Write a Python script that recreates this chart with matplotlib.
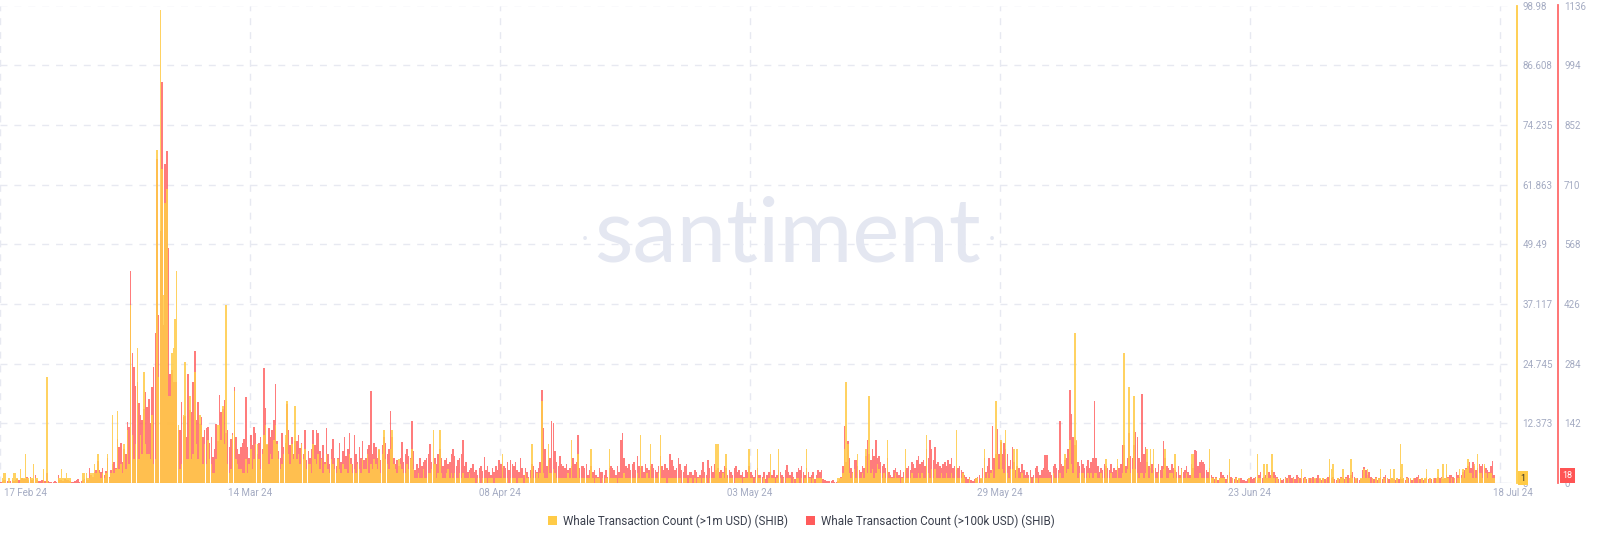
import numpy as np
import pandas as pd
import matplotlib
matplotlib.use("Agg")
import matplotlib.pyplot as plt
import matplotlib.dates as mdates
import matplotlib.transforms as mtransforms
from matplotlib.patches import Patch

# ---------------- data ----------------
start = "2024-02-17 00:00"
interval_hours = 4

# Whale Transaction Count (>1m USD) (SHIB), one value per 4h
whale_1m = [
    0,1,2,2,0,1, 0,1,2,2,1,0, 3,1,1,6,1,1, 1,1,4,1,1,0, 0,0,3,0,22,0,
    0,0,0,0,0,1, 1,3,1,1,2,1, 1,0,0,0,0,0, 0,0,2,2,2,1, 1,2,2,4,2,6,
    2,1,2,1,2,6, 1,2,14,2,3,15, 3,4,2,8,3,11, 4,37,10,5,8,28, 5,10,6,23,8,6,
    6,5,14,4,5,69, 22,98,65,39,58,61, 18,18,27,28,34,44, 12,3,4,14,25,5, 5,18,5,6,23,8,
    5,14,12,4,8,4, 9,5,4,2,2,5, 12,12,9,16,8,37, 4,2,3,10,19,5, 4,3,3,2,2,5,
    2,4,7,3,5,8, 8,5,3,6,10,12, 8,4,6,5,9,12, 8,5,3,4,6,10, 17,6,4,8,5,16,
    5,6,4,8,5,7, 3,4,4,2,8,5, 4,6,3,5,2,4, 6,3,2,5,4,3, 2,5,3,2,4,3,
    3,2,6,4,2,3, 2,4,3,2,5,3, 3,6,2,4,3,5, 4,3,7,2,6,11, 5,4,3,7,11,4,
    3,2,5,4,3,2, 2,4,3,5,7,3, 1,1,2,1,1,3, 1,1,2,2,3,11, 4,1,2,11,2,1,
    1,2,3,1,2,1, 2,1,1,2,1,2, 1,1,1,2,1,1, 1,0,1,1,0,1, 1,1,0,1,1,1,
    0,1,1,1,1,6, 1,1,1,0,1,1, 1,1,0,1,1,1, 0,2,1,1,1,8, 1,1,2,1,2,17,
    2,1,1,8,2,2, 3,2,1,1,1,1, 1,1,1,2,1,9, 1,1,1,6,1,1, 1,1,1,1,1,7,
    1,0,1,1,1,0, 1,0,1,1,7,1, 1,1,1,0,1,1, 1,2,1,1,1,1, 1,1,1,2,1,10,
    1,1,1,2,1,8, 1,1,1,1,2,10, 1,1,1,0,1,1, 1,1,1,1,1,1, 0,1,1,1,0,1,
    1,0,1,0,1,1, 0,1,1,1,0,1, 1,1,1,8,8,1, 1,2,1,6,1,1, 1,1,0,1,1,1,
    1,0,1,1,1,7, 1,1,0,1,7,1, 1,0,1,0,0,1, 6,1,1,0,1,7, 1,0,1,0,1,1,
    1,0,1,0,1,1, 0,1,0,1,7,1, 1,0,1,0,1,1, 1,1,0,0,0,0, 0,0,0,0,0,1,
    1,1,2,7,21,8, 2,1,2,3,1,6, 1,1,2,1,7,2, 18,2,3,1,2,4, 3,2,1,2,1,9,
    1,1,1,1,2,1, 1,0,1,1,7,1, 1,1,2,1,1,1, 2,1,2,1,1,10, 2,1,3,1,3,1,
    1,1,2,1,1,2, 1,1,2,1,1,11, 1,1,1,2,1,0, 0,1,0,0,0,1, 1,0,1,1,7,1,
    2,1,2,3,1,17, 6,3,9,3,2,11, 2,1,3,3,7,1, 7,1,1,2,1,1, 1,1,1,0,1,1,
    1,0,1,1,1,1, 1,1,1,0,2,1, 1,1,2,1,1,6, 2,3,9,4,2,31, 9,1,2,2,2,1,
    1,2,1,2,1,2, 2,1,1,2,1,1, 5,1,1,2,1,1, 1,5,1,1,2,27, 2,3,20,2,3,18,
    3,2,1,2,2,1, 2,7,1,7,2,7, 1,1,2,1,1,3, 7,1,1,2,2,1, 6,1,1,1,3,1,
    1,2,1,1,6,6, 1,1,1,2,1,1, 1,1,1,7,1,1, 0,1,0,1,1,1, 1,0,1,5,0,1,
    0,1,0,1,0,0, 0,0,0,1,0,0, 0,1,6,1,1,0, 4,1,4,1,1,6, 1,0,1,0,1,0,
    0,1,0,1,0,0, 1,0,0,1,0,3, 0,1,0,1,0,1, 0,1,0,0,1,0, 1,0,1,0,5,3,
    4,0,0,1,0,1, 3,0,1,0,1,5, 1,0,1,0,0,1, 1,3,1,3,1,0, 1,0,1,0,1,3,
    0,1,0,1,0,3, 1,3,0,1,0,8, 4,1,0,1,0,1, 0,1,0,0,1,0, 1,0,1,3,0,1,
    0,1,0,1,3,0, 1,4,1,4,1,0, 1,0,1,0,1,3, 1,3,1,3,5,2, 2,1,4,1,6,2,
    2,1,4,2,1,2, 2,1,1,
]

# Whale Transaction Count (>100k USD) (SHIB), one value per 4h
whale_100k = [
    3,5,8,6,4,5, 4,6,5,8,10,6, 8,12,9,10,15,7, 14,8,10,20,6,5, 4,6,8,4,23,5,
    2,3,2,4,3,19, 8,6,5,10,8,6, 5,3,2,4,8,10, 3,5,8,10,12,8, 35,20,15,25,30,52,
    30,25,35,20,28,60, 15,30,45,50,35,105, 86,96,50,80,70,145, 133,504,309,277,230,240, 190,162,150,175,216,180,
    200,142,228,276,356,770, 400,600,953,375,760,790, 560,260,270,240,240,240, 127,125,193,157,160,110, 260,174,170,240,313,150,
    193,140,157,110,127,130, 133,95,110,62,80,140, 100,209,170,175,197,120, 127,85,104,120,228,110, 80,70,85,95,104,205,
    85,60,114,90,133,120, 70,95,110,80,273,178, 90,130,110,125,150,235, 100,75,60,120,85,95, 188,126,90,110,70,100,
    100,114,83,95,70,126, 55,75,60,80,126,90, 126,120,75,60,90,50, 130,70,45,80,105,60, 40,60,95,50,75,110,
    65,80,120,60,45,115, 70,50,85,60,100,55, 60,80,90,219,70,95, 85,60,78,55,90,110, 95,70,80,171,109,60,
    45,55,40,60,97,50, 70,80,65,60,147,75, 30,45,35,60,40,50, 55,60,70,92,50,45, 60,45,70,80,60,40,
    55,60,45,50,70,80, 65,40,55,60,70,102, 40,50,25,30,35,45, 25,30,20,35,40,28, 62,30,40,25,20,35,
    25,40,30,55,45,35, 40,35,50,30,55,45, 40,50,30,25,60,35, 20,35,25,15,30,45, 40,30,25,35,50,221,
    131,80,40,55,60,147, 142,75,50,40,65,45, 40,35,45,30,35,40, 60,45,50,114,35,40, 40,35,45,20,30,40,
    25,30,20,15,35,25, 25,20,30,15,35,40, 35,30,20,40,25,102, 119,60,40,35,45,30, 45,50,30,65,40,35,
    40,25,45,35,30,40, 45,35,30,25,40,65, 40,30,45,35,30,70, 55,40,30,35,60,45, 30,25,40,45,20,25,
    25,20,30,25,15,20, 30,50,25,20,55,35, 40,25,45,30,35,25, 30,25,40,35,20,30, 25,20,35,40,25,30,
    20,25,15,30,25,40, 25,20,15,30,35,20, 20,15,25,10,20,25, 25,20,30,15,20,30, 26,20,15,30,43,25,
    20,25,15,10,25,35, 30,40,25,20,35,25, 15,20,25,10,20,30, 25,30,10,8,5,5, 5,4,6,3,2,4,
    10,15,40,135,50,100, 60,35,25,55,55,40, 30,25,40,35,65,102, 70,55,80,65,102,60, 65,50,40,45,35,60,
    25,20,15,30,35,25, 20,30,15,25,30,35, 40,30,50,45,35,55, 65,45,50,55,40,80, 60,102,80,55,85,45,
    50,40,35,45,50,40, 55,45,60,35,40,30, 35,40,30,25,20,15, 10,15,8,5,10,12, 15,20,10,35,60,25,
    40,60,30,135,60,70, 128,70,97,70,95,80, 70,40,55,85,50,30, 40,35,25,45,30,20, 25,20,30,15,20,35,
    40,25,20,30,35,66, 66,30,25,20,40,45, 35,30,147,45,40,55, 60,80,221,164,110,90, 100,50,40,55,45,35,
    40,55,35,50,60,195, 60,40,25,35,30,45, 40,35,30,45,25,35, 30,40,35,45,90,90, 40,60,120,65,60,90,
    121,110,60,50,212,70, 85,50,40,35,45,30, 35,25,45,30,40,100, 60,40,35,30,45,35, 30,25,40,20,35,25,
    30,40,25,20,45,35, 78,75,40,50,55,50, 45,30,25,35,20,15, 10,15,8,12,25,20, 15,10,20,25,15,12,
    10,15,8,10,12,6, 8,5,10,12,15,10, 12,15,8,20,25,12, 15,20,12,25,18,30, 25,20,15,10,12,8,
    10,15,12,18,20,12, 15,10,20,15,12,10, 12,15,10,8,12,10, 15,10,12,20,10,8, 12,10,8,15,20,12,
    15,10,8,12,10,15, 12,10,15,20,12,18, 25,15,10,12,8,10, 30,38,30,20,25,15, 12,10,15,8,12,15,
    10,15,20,12,10,8, 12,10,8,12,10,15, 10,12,8,15,12,10, 8,10,12,15,20,10, 12,8,10,15,10,12,
    10,8,12,10,15,12, 15,10,12,20,15,18, 20,15,12,25,18,15, 20,25,30,35,40,50, 35,50,40,30,35,45,
    40,45,40,35,30,25, 40,52,18,
]

x_tick_labels = ["17 Feb 24", "14 Mar 24", "08 Apr 24", "03 May 24",
                 "29 May 24", "23 Jun 24", "18 Jul 24"]
yellow_ticks = [0, 12.373, 24.745, 37.117, 49.49, 61.863, 74.235, 86.608, 98.98]
yellow_tick_labels = ["0", "12.373", "24.745", "37.117", "49.49",
                      "61.863", "74.235", "86.608", "98.98"]
red_ticks = [0, 142, 284, 426, 568, 710, 852, 994, 1136]
red_tick_labels = ["0", "142", "284", "426", "568", "710", "852", "994", "1136"]

series_1m_name = "Whale Transaction Count (>1m USD) (SHIB)"
series_100k_name = "Whale Transaction Count (>100k USD) (SHIB)"

assert len(whale_1m) == len(whale_100k)

# ---------------- style ----------------
YELLOW = "#FFCB47"
RED = "#FF5B5B"
GRID = "#E7E9F1"
TICK = "#A4ABC2"
plt.rcParams["font.family"] = ["Roboto", "DejaVu Sans"]

W, H = 1600, 542
fig = plt.figure(figsize=(W / 100, H / 100), dpi=100)

base_y = 483.0
top_y = 5.5
plot_right = 1512.0
ax = fig.add_axes([0, 1 - base_y / H, plot_right / W, (base_y - top_y) / H])
ax_y = ax.twinx()

times = pd.date_range(start=start, periods=len(whale_1m), freq=f"{interval_hours}h")
xnum = mdates.date2num(times.to_pydatetime())
step = interval_hours / 24.0
t0 = mdates.date2num(pd.Timestamp(start).to_pydatetime())
px_per_day = 1500.0 / 152.0
ax.set_xlim(t0, t0 + plot_right / px_per_day)

# red series (>100k) on the outer axis, drawn first
ax.bar(xnum, whale_100k, width=step * 0.92, align="edge", color=RED, alpha=0.8,
       linewidth=0, zorder=2)
ax.set_ylim(0, red_ticks[-1])
# yellow series (>1m) on top
ax_y.bar(xnum, whale_1m, width=step * 0.92, align="edge", color=YELLOW, alpha=0.85,
         linewidth=0, zorder=2)
ax_y.set_ylim(0, yellow_ticks[-1])

# grid
xt = np.linspace(t0, t0 + 152, len(x_tick_labels))
ax.set_xticks(xt)
ax.set_xticklabels([""] * len(xt))
ax.set_yticks(red_ticks)
ax.set_yticklabels(red_tick_labels)
ax.set_axisbelow(True)
ax.grid(True, axis="both", color=GRID, linewidth=1.0, linestyle=(0, (5, 5)))
ax.axhline(0, color="#E4E6EE", linewidth=1.0, zorder=1)

for a in (ax, ax_y):
    for s in ("top", "left", "bottom"):
        a.spines[s].set_visible(False)
ax_y.patch.set_alpha(0)
ax.patch.set_facecolor("white")

ax.spines["right"].set_position(("axes", 1558.3 / plot_right))
ax.spines["right"].set_color("#FF6A6A")
ax.spines["right"].set_linewidth(1.3)
ax_y.spines["right"].set_position(("axes", 1516.7 / plot_right))
ax_y.spines["right"].set_color(YELLOW)
ax_y.spines["right"].set_linewidth(1.3)

ax.yaxis.tick_right()
ax.tick_params(axis="y", length=0, pad=4.2, labelsize=7, labelcolor=TICK)
ax.tick_params(axis="x", length=0)
ax_y.set_yticks(yellow_ticks)
ax_y.set_yticklabels(yellow_tick_labels)
ax_y.tick_params(axis="y", length=0, pad=4.0, labelsize=7, labelcolor=TICK)
ax_y.grid(False)

# x labels placed at the tick positions
offsets = [4] + [0] * (len(xt) - 2) + [13]
for i, (pos, lab) in enumerate(zip(xt, x_tick_labels)):
    ax.annotate(lab, xy=(pos, 0), xycoords=("data", "axes fraction"),
                xytext=(offsets[i], -4.5), textcoords="offset pixels",
                ha="left" if i == 0 else "center", va="top",
                fontsize=7, color=TICK, annotation_clip=False)

# last value badges
tr_y = mtransforms.blended_transform_factory(fig.transFigure, ax_y.transData)
tr_r = mtransforms.blended_transform_factory(fig.transFigure, ax.transData)
ax_y.text(1520.5 / W, whale_1m[-1], str(whale_1m[-1]), transform=tr_y, ha="left", va="center",
          fontsize=6.5, color="#2A2A2A",
          bbox=dict(boxstyle="square,pad=0.25", fc=YELLOW, ec="none"), clip_on=False, zorder=5)
ax.text(1562.5 / W, whale_100k[-1], str(whale_100k[-1]), transform=tr_r, ha="left", va="center",
        fontsize=6.5, color="white",
        bbox=dict(boxstyle="square,pad=0.3", fc="#FF5454", ec="none"), clip_on=False, zorder=5)

# watermark
WM = "#E4E7F1"
fig.text(787 / W, 1 - 237 / H, "santiment", ha="center", va="center", fontsize=64,
         color=WM, family=["Lato", "DejaVu Sans"], weight="normal", zorder=0.5)
for xd in (585, 992):
    fig.text(xd / W, 1 - 240 / H, "•", ha="center", va="center", fontsize=13,
             color=WM, zorder=0.5)

# legend
handles = [Patch(facecolor=YELLOW, edgecolor="none", label=series_1m_name),
           Patch(facecolor=RED, edgecolor="none", label=series_100k_name)]
fig.legend(handles=handles, loc="center", bbox_to_anchor=(801.5 / W, 1 - 521 / H), ncol=2,
           frameon=False, fontsize=8.4, handlelength=0.75, handleheight=0.75,
           handletextpad=0.5, columnspacing=1.6, labelcolor="#3A3F4C")

fig.savefig("out.png", dpi=100, facecolor="white")
